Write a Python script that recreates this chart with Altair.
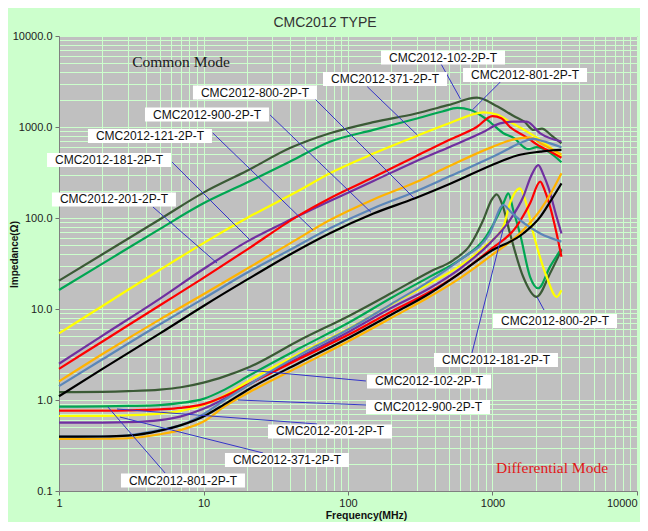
import altair as alt
import pandas as pd

# ---------------- data ----------------
PARTS = ["CMC2012-102-2P-T", "CMC2012-801-2P-T", "CMC2012-371-2P-T", "CMC2012-201-2P-T",
         "CMC2012-181-2P-T", "CMC2012-121-2P-T", "CMC2012-900-2P-T", "CMC2012-800-2P-T"]
COLORS = ["#3b5a36", "#00a652", "#ffff00", "#7030a0", "#ff0000", "#ffb300", "#5b86b8", "#000000"]

# Common mode impedance: (frequency MHz, impedance ohm)
CM_102 = [(1, 20.5), (2, 40), (5, 97), (10, 190), (20, 330), (40, 590), (75, 853), (150, 1130),
          (291, 1400), (500, 1750), (780, 2100), (1085, 1677), (1420, 1305), (1660, 1143),
          (1930, 927), (2200, 960), (2540, 815), (3000, 661)]
CM_801 = [(1, 16.2), (2, 31.5), (5, 76), (10, 145), (20, 245), (40, 420), (75, 689), (150, 930),
          (291, 1224), (450, 1480), (571, 1620), (705, 1540), (920, 1200), (1190, 855),
          (1400, 760), (1760, 570), (2030, 600), (2370, 550), (3000, 410)]
CM_371 = [(1, 5.4), (2, 10.8), (5, 27), (10, 53), (20, 100), (46.5, 203), (75, 310), (150, 510),
          (291, 783), (508, 1107), (870, 1450), (1085, 1360), (1320, 1143), (1660, 927),
          (2150, 719), (3000, 472)]
CM_201 = [(1, 2.5), (2, 5.1), (5, 13), (10, 27.5), (20, 55), (44, 103), (75, 154), (150, 255),
          (291, 416), (500, 600), (863, 880), (1127, 1097), (1390, 1143), (1722, 1143),
          (2140, 851), (3000, 692)]
CM_181 = [(1, 2.2), (2, 4.4), (5, 11), (10, 22), (20, 45), (44, 103), (75, 165), (150, 280),
          (291, 472), (500, 720), (777, 1000), (1000, 1320), (1150, 1250), (1320, 1000),
          (1700, 780), (2140, 610), (2540, 530), (3000, 460)]
CM_121 = [(1, 1.6), (2, 3.2), (5, 7.7), (10, 14.5), (21, 29), (40, 53), (75, 95), (150, 160),
          (291, 245), (500, 370), (1000, 605), (1400, 730), (1800, 770), (2200, 650), (3000, 500)]
CM_900 = [(1, 1.42), (2, 2.8), (5, 6.8), (10, 13), (20, 25), (40, 45), (75, 77), (150, 128),
          (291, 194), (500, 285), (1127, 514), (1600, 680), (1918, 740), (2300, 690), (3000, 600)]
CM_800 = [(1, 1.1), (2, 2.2), (5, 5.4), (10, 10.8), (20, 21), (40, 40), (75, 68), (150, 112),
          (291, 165), (500, 235), (1127, 416), (1500, 490), (2150, 536), (2600, 555), (3000, 560)]

# Differential mode impedance
DM_102 = [(1, 1.22), (2, 1.23), (3, 1.25), (5, 1.3), (7, 1.38), (10, 1.55), (14, 1.82), (21, 2.32),
          (46.5, 4.56), (103, 8.5), (200, 15.0), (369, 25.7), (536, 34.5), (698, 50), (863, 95),
          (986, 158), (1069, 182), (1170, 140), (1320, 68), (1630, 22.6), (2018, 13.6),
          (2500, 24.6), (3000, 44.5)]
DM_801 = [(1, 0.845), (2, 0.85), (3, 0.86), (5, 0.88), (7, 0.93), (10, 1.03), (14, 1.3), (21, 1.88),
          (46.5, 3.72), (103, 7.2), (200, 13.3), (369, 22.7), (600, 35), (900, 62), (1100, 110),
          (1200, 150), (1286, 186), (1400, 118), (1549, 67.6), (1820, 22.6), (2075, 16.9),
          (2503, 29.2), (3000, 46)]
DM_371 = [(1, 0.667), (2, 0.67), (3, 0.68), (5, 0.71), (7, 0.76), (10, 0.88), (14, 1.12), (21, 1.66),
          (46.5, 3.26), (103, 6.2), (200, 11.3), (369, 19.2), (600, 30), (900, 50), (1188, 80),
          (1320, 145), (1549, 212), (1700, 150), (1918, 67.6), (2370, 22.6), (2778, 13.6), (3000, 16.1)]
DM_201 = [(1, 0.563), (2, 0.565), (3, 0.57), (5, 0.6), (7, 0.66), (10, 0.8), (14, 1.03), (21, 1.5),
          (46.5, 2.95), (103, 5.7), (200, 10.3), (369, 17), (600, 28), (957, 52.6), (1320, 95),
          (1630, 170), (1850, 290), (2075, 382), (2250, 300), (2427, 221), (2778, 103), (3000, 67.6)]
DM_181 = [(1, 0.763), (2, 0.765), (3, 0.77), (5, 0.79), (7, 0.82), (10, 0.9), (14, 1.1), (21, 1.52),
          (46.5, 2.85), (103, 5.3), (200, 9.4), (369, 15.5), (600, 25), (957, 44.5), (1460, 80),
          (1820, 145), (2140, 251), (2300, 200), (2503, 133), (2778, 67.6), (3000, 37.6)]
DM_121 = [(1, 0.373), (2, 0.375), (3, 0.38), (5, 0.42), (7, 0.47), (10, 0.58), (14, 0.85), (21, 1.23),
          (46.5, 2.35), (103, 4.5), (200, 8.0), (369, 13.7), (600, 22), (957, 37.6), (1630, 73.5),
          (2140, 122), (2500, 180), (3000, 310)]
DM_900 = [(1, 0.395), (2, 0.398), (3, 0.41), (5, 0.47), (7, 0.53), (10, 0.7), (14, 1.0), (21, 1.5),
          (46.5, 3.15), (103, 6.1), (200, 11.4), (369, 20.4), (600, 35), (957, 67.6), (1188, 139),
          (1350, 115), (1549, 95), (2140, 67.6), (3000, 55)]
DM_800 = [(1, 0.395), (2, 0.397), (3, 0.405), (5, 0.46), (7, 0.53), (10, 0.66), (14, 0.9), (21, 1.34),
          (46.5, 2.58), (103, 4.9), (200, 8.7), (369, 14.9), (600, 25), (957, 42.4), (1630, 67.6),
          (2140, 103), (2500, 150), (3000, 240)]

CM_SERIES = [CM_102, CM_801, CM_371, CM_201, CM_181, CM_121, CM_900, CM_800]
DM_SERIES = [DM_102, DM_801, DM_371, DM_201, DM_181, DM_121, DM_900, DM_800]

X_TICKS = [m * 10 ** e for e in range(0, 4) for m in range(1, 10)] + [10000]
Y_TICKS = [round(m * 10.0 ** e, 6) for e in range(-1, 4) for m in range(1, 10)] + [10000]

# Annotation labels (anchor in data units: MHz, ohm)
LABEL_TEXT = ["CMC2012-102-2P-T", "CMC2012-801-2P-T", "CMC2012-371-2P-T", "CMC2012-800-2P-T",
              "CMC2012-900-2P-T", "CMC2012-121-2P-T", "CMC2012-181-2P-T", "CMC2012-201-2P-T",
              "CMC2012-800-2P-T", "CMC2012-181-2P-T", "CMC2012-102-2P-T", "CMC2012-900-2P-T",
              "CMC2012-201-2P-T", "CMC2012-371-2P-T", "CMC2012-801-2P-T"]
LABEL_F = [454.5, 1679, 180.3, 22.7, 10.57, 4.26, 2.22, 2.40,
           2707, 1057, 363.6, 357.8, 75.1, 37.8, 7.21]
LABEL_Z = [5803, 3727, 3369, 2393, 1372, 796, 434, 160,
           7.38, 2.75, 1.597, 0.838, 0.4507, 0.2191, 0.1304]

# Leader lines: from label to curve
LEADER_F1 = [438, 1139, 136, 59.1, 28.9, 11.6, 6.05, 4.47, 2272, 721, 133, 135.4, 61, 25.8, 5.42]
LEADER_Z1 = [5012, 3147, 2773, 2032, 1355, 859, 412, 132, 9.75, 3.29, 1.618, 0.881, 0.545, 0.2617, 0.1577]
LEADER_F2 = [602, 725, 302, 286, 144, 57.2, 21, 12.4, 2032, 1182, 20, 17.3, 2.52, 2.64, 2.18]
LEADER_Z2 = [2016, 1538, 817, 166, 116, 73.8, 57.3, 32, 13.55, 73.8, 2.137, 1.0, 0.796, 0.65, 0.838]

MODE_TEXT = ["Common Mode", "Differential Mode"]
MODE_F = [6.99, 2581]
MODE_Z = [5179, 0.179]

# ---------------- frames ----------------
rows = []
for part, cm, dm in zip(PARTS, CM_SERIES, DM_SERIES):
    for mode, series in (("CM", cm), ("DM", dm)):
        for i, (f, z) in enumerate(series):
            rows.append({"part": part, "mode": mode, "i": i, "f": f, "z": z})
curve_df = pd.DataFrame(rows)

label_df = pd.DataFrame({"label": LABEL_TEXT, "f": LABEL_F, "z": LABEL_Z})
leader_df = pd.DataFrame({"f1": LEADER_F1, "z1": LEADER_Z1, "f2": LEADER_F2, "z2": LEADER_Z2})
mode_df = pd.DataFrame({"text": MODE_TEXT, "f": MODE_F, "z": MODE_Z})

# ---------------- encodings ----------------
DEC = "abs(log(datum.value)/LN10 - round(log(datum.value)/LN10)) < 0.001"
FONT = "Liberation Sans"

XAXIS = alt.Axis(values=X_TICKS, format="d", labelExpr=f"({DEC}) ? datum.label : ''",
                 labelOverlap=False, labelFlush=False, labelFont=FONT, labelFontSize=11,
                 labelAlign={"condition": {"test": "datum.value >= 10000", "value": "right"},
                             "value": "center"},
                 labelColor="#222222", labelPadding=2, tickSize=4, tickColor="#707070",
                 tickOpacity={"condition": {"test": DEC, "value": 1}, "value": 0},
                 domainColor="#808080", gridColor="#ccffcc", gridWidth=1,
                 titleFont=FONT, titleFontSize=10.5, titleFontWeight="bold", titleColor="#111111",
                 titleX=307, titleY=19, titleBaseline="top", titleAlign="center")
YAXIS = alt.Axis(values=Y_TICKS, format=".1f", labelExpr=f"({DEC}) ? datum.label : ''",
                 labelOverlap=False, labelFlush=False, labelFont=FONT, labelFontSize=11,
                 labelColor="#222222", labelPadding=3, tickSize=4, tickColor="#707070",
                 tickOpacity={"condition": {"test": DEC, "value": 1}, "value": 0},
                 domainColor="#808080", gridColor="#ccffcc", gridWidth=1,
                 titleFont=FONT, titleFontSize=10, titleFontWeight="bold", titleColor="#111111",
                 titleX=-45, titleY=218, titleAngle=270, titleBaseline="middle", titleAlign="center")
XSCALE = alt.Scale(type="log", domain=[1, 10000], nice=False)
YSCALE = alt.Scale(type="log", domain=[0.1, 10000], nice=False)


def xenc(field):
    return alt.X(f"{field}:Q", scale=XSCALE, axis=XAXIS, title="Frequency(MHz)")


def yenc(field):
    return alt.Y(f"{field}:Q", scale=YSCALE, axis=YAXIS, title="Impedance(Ω)")


curves = alt.Chart(curve_df).mark_line(interpolate="monotone", strokeWidth=2.2).encode(
    x=xenc("f"), y=yenc("z"),
    color=alt.Color("part:N", scale=alt.Scale(domain=PARTS, range=COLORS), legend=None),
    detail="mode:N",
    order=alt.Order("i:Q"),
)

leaders = alt.Chart(leader_df).mark_rule(color="#3434c8", strokeWidth=1).encode(
    x=xenc("f1"), y=yenc("z1"), x2="f2:Q", y2="z2:Q"
)

BOX_PATH = "M-1,-0.113L1,-0.113L1,0.113L-1,0.113Z"
boxes = alt.Chart(label_df).mark_point(shape=BOX_PATH, size=124 * 124, filled=True,
                                       color="white", opacity=1, strokeWidth=0).encode(
    x=xenc("f"), y=yenc("z")
)

texts = alt.Chart(label_df).mark_text(font=FONT, fontSize=12, color="#111111",
                                      align="center", baseline="middle").encode(
    x=xenc("f"), y=yenc("z"), text="label:N"
)

cm_text = alt.Chart(mode_df.iloc[[0]]).mark_text(font="Liberation Serif", fontSize=15.5,
                                                 color="#1a1a1a", align="center",
                                                 baseline="middle").encode(
    x=xenc("f"), y=yenc("z"), text="text:N"
)
dm_text = alt.Chart(mode_df.iloc[[1]]).mark_text(font="Liberation Serif", fontSize=15.5,
                                                 color="#e01818", align="center",
                                                 baseline="middle").encode(
    x=xenc("f"), y=yenc("z"), text="text:N"
)

chart = alt.layer(curves, leaders, boxes, texts, cm_text, dm_text).properties(
    width=578,
    height=455,
    title=alt.TitleParams(text="CMC2012 TYPE", font=FONT, fontSize=14, fontWeight="normal",
                          color="#333333", anchor="middle", frame="group", dx=-23,
                          offset=-14, baseline="bottom"),
    padding={"left": 51, "top": 28, "right": 3, "bottom": 31},
    autosize=alt.AutoSizeParams(type="none"),
    background="#ccffcc",
).configure_view(fill="#c0c0c0", stroke="#808080", strokeWidth=1)

chart.save("out.html", embed_options={"renderer": "svg", "actions": False})
